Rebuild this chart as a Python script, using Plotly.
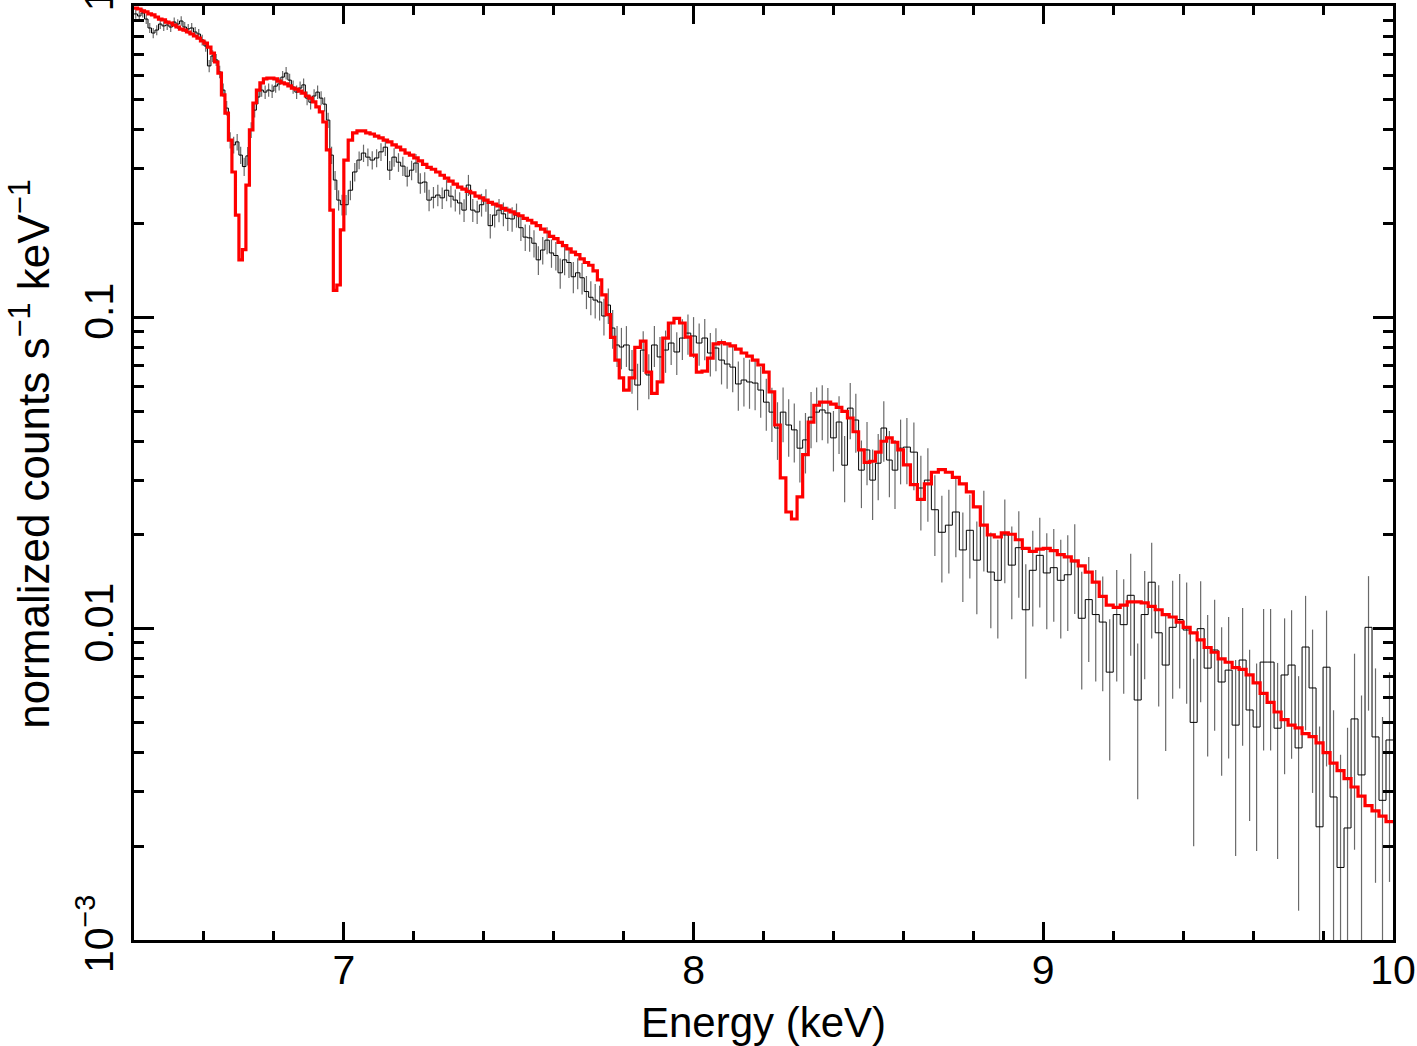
import numpy as np
import plotly.graph_objects as go

# ---- channel grid (bin groups: start, end, number of bins) ----
SEG_LO = [6.40, 7.00, 7.80, 8.60]
SEG_HI = [7.00, 7.80, 8.60, 10.00]
SEG_NBINS = [60, 64, 50, 70]

# ---- data (normalized counts s^-1 keV^-1) ----
data_a = [0.943,0.929,0.950,0.908,0.850,0.819,0.837,0.875,0.863,0.869,
          0.856,0.888,0.875,0.895,0.856,0.844,0.850,0.825,0.813,0.778,
          0.744,0.642,0.691,0.671,0.614,0.537,0.470,0.371,0.358,0.366,
          0.332,0.305,0.330,0.400,0.463,0.510,0.537,0.529,0.537,0.533,
          0.553,0.562,0.591,0.609,0.578,0.549,0.529,0.545,0.558,0.506,
          0.491,0.514,0.529,0.506,0.484,0.430,0.332,0.276,0.238,0.230]
data_b = [0.230,0.256,0.293,0.320,0.337,0.327,0.320,0.325,0.340,0.352,
          0.297,0.327,0.315,0.306,0.284,0.297,0.313,0.270,0.272,0.238,
          0.243,0.247,0.242,0.256,0.245,0.238,0.233,0.221,0.266,0.221,
          0.218,0.230,0.238,0.197,0.213,0.221,0.215,0.208,0.207,0.213,
          0.194,0.181,0.180,0.173,0.153,0.1645,0.177,0.161,0.158,0.139,
          0.153,0.150,0.135,0.139,0.134,0.121,0.116,0.1136,0.112,0.101,
          0.1095,0.0924,0.0815,0.0803]
data_c = [0.0815,0.0677,0.0606,0.0785,0.0653,0.0815,0.0746,0.0785,0.0827,0.0774,
          0.0858,0.0890,0.0871,0.0827,0.0858,0.0768,0.0797,0.0729,0.0708,0.0692,
          0.0611,0.0629,0.0620,0.0615,0.0584,0.0534,0.0496,0.0441,0.0496,0.0451,
          0.0435,0.0380,0.0404,0.0478,0.0496,0.0504,0.0493,0.0410,0.0461,0.0335,
          0.0511,0.0468,0.0323,0.0375,0.0300,0.0340,0.0441,0.0348,0.0323,0.0380]
data_d = [0.0383,0.0369,0.0283,0.0300,0.0241,0.0204,0.0215,0.0237,0.0179,0.0207,
          0.0166,0.0215,0.0152,0.0143,0.0200,0.0160,0.0182,0.0115,0.0154,0.0172,
          0.0151,0.0157,0.0143,0.0149,0.0164,0.0108,0.0124,0.0111,0.0105,0.00725,
          0.0111,0.0103,0.0128,0.0059,0.0111,0.0141,0.0097,0.00764,0.0101,0.0107,
          0.0099,0.0050,0.0100,0.00747,0.00854,0.00674,0.00736,0.0049,0.00793,0.00548,
          0.00483,0.00781,0.00781,0.00479,0.00710,0.00764,0.00414,0.00873,0.00645,0.00231,
          0.00752,0.00288,0.00171,0.00229,0.00513,0.00339,0.0101,0.00449,0.00281,0.00439]

# ---- relative 1-sigma errors of the data ----
relerr_a = [0.035,0.035,0.034,0.036,0.037,0.038,0.037,0.036,0.036,0.036,
            0.037,0.035,0.036,0.035,0.037,0.037,0.037,0.038,0.038,0.040,
            0.041,0.045,0.043,0.044,0.046,0.050,0.054,0.060,0.062,0.061,
            0.064,0.067,0.068,0.059,0.053,0.050,0.049,0.050,0.049,0.050,
            0.048,0.048,0.047,0.046,0.048,0.049,0.050,0.049,0.049,0.051,
            0.052,0.051,0.050,0.052,0.053,0.056,0.064,0.070,0.075,0.076]
relerr_b = [0.075,0.072,0.068,0.066,0.064,0.066,0.067,0.066,0.065,0.064,
            0.070,0.068,0.069,0.071,0.073,0.072,0.070,0.076,0.076,0.080,
            0.079,0.079,0.080,0.078,0.080,0.081,0.082,0.084,0.078,0.085,
            0.086,0.084,0.083,0.090,0.087,0.086,0.088,0.090,0.090,0.089,
            0.094,0.097,0.098,0.100,0.106,0.102,0.099,0.104,0.105,0.112,
            0.108,0.109,0.115,0.114,0.116,0.122,0.125,0.127,0.128,0.135,
            0.130,0.142,0.150,0.152]
relerr_c = [0.150,0.160,0.170,0.150,0.165,0.150,0.158,0.155,0.150,0.156,
            0.150,0.148,0.150,0.155,0.152,0.160,0.158,0.165,0.167,0.170,
            0.180,0.178,0.180,0.182,0.185,0.190,0.198,0.210,0.200,0.210,
            0.215,0.225,0.220,0.205,0.200,0.200,0.202,0.220,0.210,0.240,
            0.205,0.215,0.245,0.230,0.255,0.240,0.220,0.240,0.250,0.235]
relerr_d = [0.240,0.245,0.270,0.265,0.290,0.310,0.300,0.285,0.320,0.300,
            0.330,0.290,0.340,0.350,0.300,0.330,0.310,0.400,0.340,0.320,
            0.340,0.330,0.350,0.340,0.320,0.410,0.370,0.390,0.400,0.480,
            0.390,0.400,0.360,0.520,0.380,0.340,0.420,0.470,0.410,0.400,
            0.420,0.600,0.420,0.480,0.450,0.500,0.480,0.620,0.470,0.560,
            0.600,0.480,0.480,0.620,0.520,0.500,0.700,0.460,0.540,1.100,
            0.520,0.900,1.300,1.100,0.620,0.800,0.460,0.660,0.850,0.650]

# ---- folded model ----
model_a = [0.985,0.978,0.964,0.957,0.943,0.936,0.922,0.908,0.902,0.888,
           0.882,0.869,0.856,0.843,0.837,0.825,0.813,0.801,0.789,0.772,
           0.760,0.738,0.706,0.661,0.609,0.518,0.453,0.371,0.293,0.213,
           0.153,0.165,0.266,0.400,0.488,0.537,0.566,0.583,0.587,0.587,
           0.583,0.574,0.566,0.562,0.554,0.545,0.541,0.533,0.525,0.514,
           0.506,0.492,0.474,0.457,0.424,0.345,0.221,0.122,0.127,0.191]
model_b = [0.320,0.371,0.391,0.397,0.397,0.391,0.388,0.382,0.377,0.371,
           0.366,0.358,0.352,0.345,0.337,0.332,0.325,0.318,0.310,0.303,
           0.299,0.293,0.286,0.280,0.274,0.268,0.262,0.258,0.254,0.251,
           0.245,0.242,0.238,0.234,0.231,0.228,0.224,0.221,0.218,0.215,
           0.212,0.208,0.205,0.201,0.197,0.192,0.188,0.182,0.179,0.174,
           0.170,0.166,0.162,0.159,0.154,0.150,0.147,0.141,0.132,0.118,
           0.102,0.0862,0.0729,0.0639]
model_c = [0.0584,0.0639,0.0801,0.0839,0.0667,0.0570,0.0620,0.0857,0.0959,0.0993,
           0.0959,0.0864,0.0756,0.0667,0.0672,0.0740,0.0822,0.0829,0.0822,0.0810,
           0.0791,0.0768,0.0751,0.0729,0.0703,0.0667,0.0576,0.0451,0.0305,0.0237,
           0.0225,0.0265,0.0362,0.0461,0.0522,0.0534,0.0534,0.0526,0.0514,0.0499,
           0.0475,0.0429,0.0375,0.0342,0.0345,0.0369,0.0400,0.0410,0.0397,0.0375]
model_d = [0.0336,0.0290,0.0260,0.0292,0.0318,0.0324,0.0318,0.0306,0.0292,0.0275,
           0.0246,0.0215,0.0200,0.0197,0.0203,0.0201,0.0193,0.0181,0.0177,0.0180,
           0.0181,0.0178,0.0173,0.0170,0.0165,0.0159,0.0152,0.0141,0.0127,0.0119,
           0.0117,0.0119,0.0122,0.0122,0.0121,0.0118,0.0115,0.0111,0.0109,0.0105,
           0.0101,0.0097,0.0092,0.0087,0.0084,0.0080,0.0078,0.0075,0.0074,0.0071,
           0.0067,0.0062,0.0058,0.0054,0.0051,0.0049,0.0048,0.0046,0.0045,0.0043,
           0.0040,0.0037,0.0035,0.0033,0.0031,0.0029,0.0027,0.0026,0.0025,0.0024]

x_tickvals = [7, 8, 9, 10]
y_tickvals = [1e-3, 1e-2, 1e-1, 1]
y_ticktext = ["10<sup>\u22123</sup>", "0.01", "0.1", "1"]

# ---- assemble ----
edges = [SEG_LO[0]]
for lo, hi, n in zip(SEG_LO, SEG_HI, SEG_NBINS):
    edges.extend(list(np.linspace(lo, hi, n + 1)[1:]))
edges = np.array(edges)
centers = 0.5 * (edges[:-1] + edges[1:])

data = np.array(data_a + data_b + data_c + data_d)
relerr = np.array(relerr_a + relerr_b + relerr_c + relerr_d)
model = np.array(model_a + model_b + model_c + model_d)
err = data * relerr

step_x = list(edges)
data_step_y = list(data) + [data[-1]]
model_step_y = list(model) + [model[-1]]

ex, ey = [], []
for c, v, e in zip(centers, data, err):
    lo = v - e
    if lo <= 0:
        lo = 1e-6
    ex += [c, c, None]
    ey += [lo, v + e, None]

fig = go.Figure()
fig.add_trace(go.Scatter(x=ex, y=ey, mode="lines",
                         line=dict(color="#6a6a6a", width=1.2),
                         hoverinfo="skip"))
fig.add_trace(go.Scatter(x=step_x, y=data_step_y, mode="lines",
                         line=dict(color="black", width=1, shape="hv")))
fig.add_trace(go.Scatter(x=step_x, y=model_step_y, mode="lines",
                         line=dict(color="#ff0000", width=3.2, shape="hv")))

FONT = "Liberation Sans, Arial, Helvetica, sans-serif"
fig.update_layout(
    width=1417, height=1046,
    margin=dict(l=134, r=24, t=6, b=106, autoexpand=False),
    plot_bgcolor="white", paper_bgcolor="white",
    showlegend=False,
    font=dict(family=FONT, size=41, color="black"),
    xaxis=dict(
        range=[6.4, 10], tickvals=x_tickvals, ticktext=[str(v) for v in x_tickvals],
        ticks="inside", ticklen=18, tickwidth=3, tickcolor="black",
        showline=True, linewidth=3, linecolor="black", mirror="allticks",
        showgrid=False, zeroline=False, automargin=False,
        tickfont=dict(size=41),
        ticklabelstandoff=-8,
        ticklabeloverflow="allow",
        minor=dict(ticks="inside", ticklen=9, tickwidth=3, tickcolor="black",
                   dtick=0.2, tick0=6.4, showgrid=False),
        title=dict(text="Energy (keV)", font=dict(size=42), standoff=24),
    ),
    yaxis=dict(
        type="log", range=[-3, 0],
        tickvals=y_tickvals, ticktext=y_ticktext, tickangle=-90,
        ticks="inside", ticklen=20, tickwidth=3, tickcolor="black",
        showline=True, linewidth=3, linecolor="black", mirror="allticks",
        showgrid=False, zeroline=False, automargin=False,
        tickfont=dict(size=41),
        ticklabelstandoff=2,
        ticklabeloverflow="allow",
        minor=dict(ticks="inside", ticklen=10, tickwidth=3, tickcolor="black",
                   tickvals=[m * 10.0 ** p for p in (-3, -2, -1) for m in range(2, 10)],
                   showgrid=False),
    ),
    annotations=[dict(
        text="normalized counts s<sup>\u22121</sup> keV<sup>\u22121</sup>",
        textangle=-90, xref="paper", yref="paper",
        x=-0.083, y=0.52, xanchor="center", yanchor="middle",
        showarrow=False, font=dict(family=FONT, size=44, color="black"),
    )],
)

fig.write_html("out.html")
